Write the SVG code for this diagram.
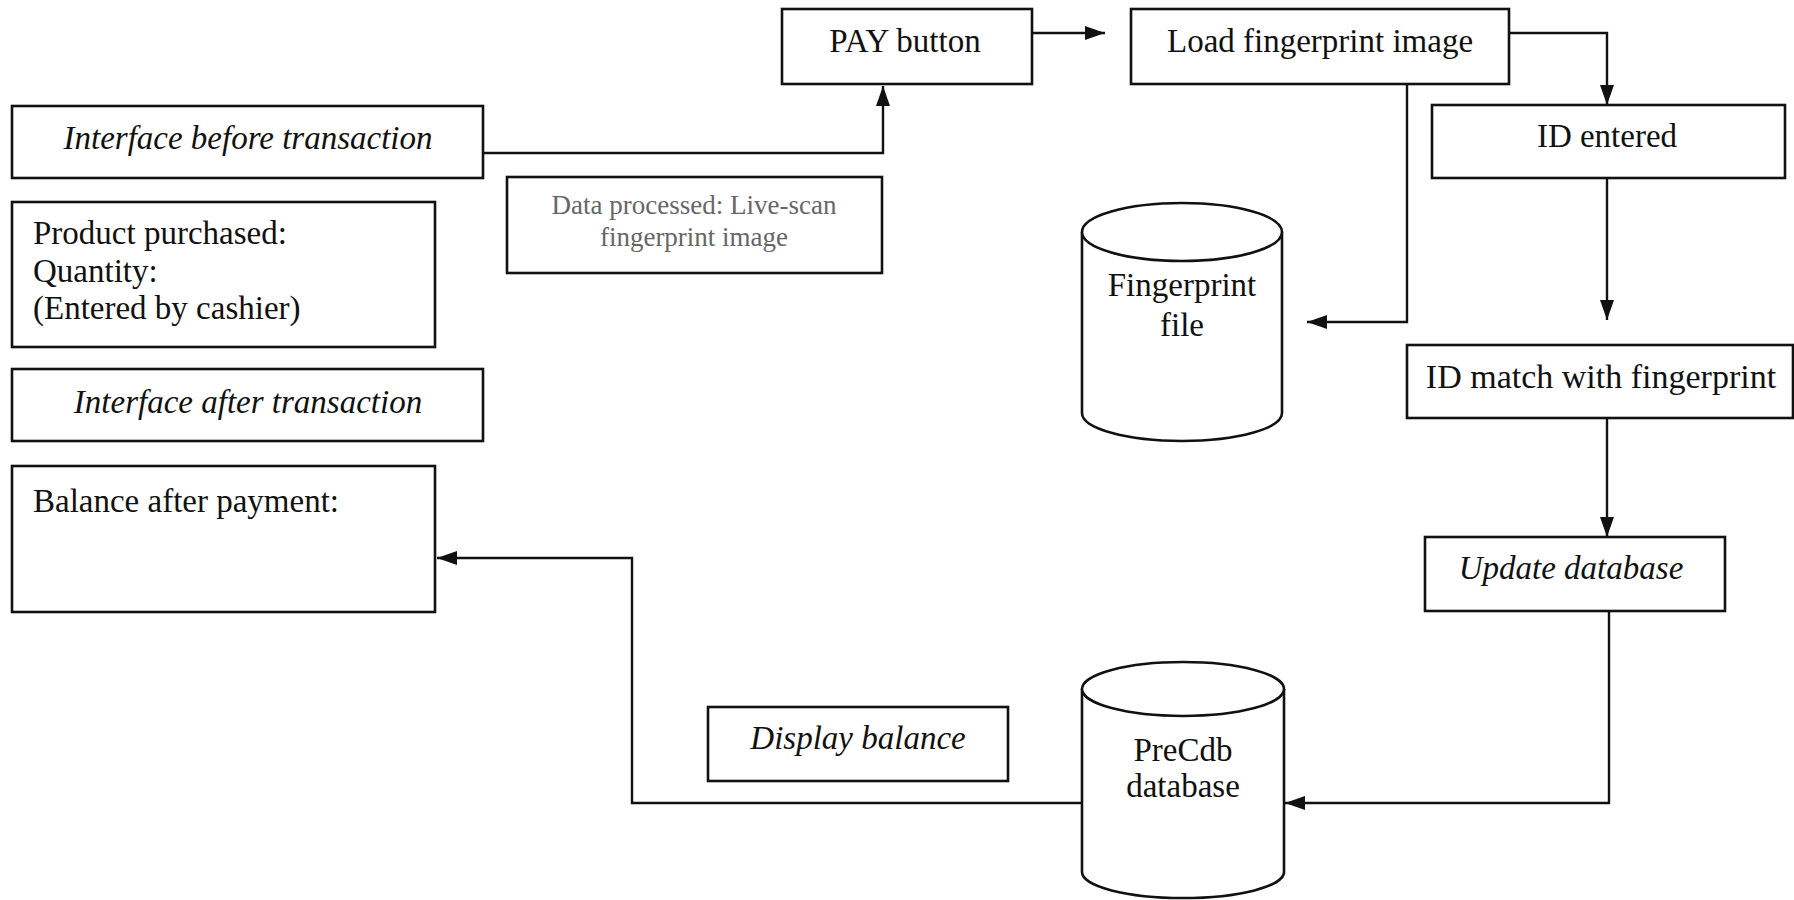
<svg xmlns="http://www.w3.org/2000/svg" width="1794" height="900" viewBox="0 0 1794 900">
<style>
.box{fill:#fff;stroke:#111;stroke-width:2.6}
.cyl{fill:#fff;stroke:#111;stroke-width:2.6}
.t{font-family:"Liberation Serif","Times New Roman",serif;font-size:33px;fill:#111}
.c{text-anchor:middle}
.i{font-style:italic}
.g{font-size:27px;fill:#666}
.con{fill:none;stroke:#111;stroke-width:2.4}
</style>
<defs>
<marker id="ah" viewBox="0 0 20 14" refX="20" refY="7" markerWidth="20" markerHeight="14" markerUnits="userSpaceOnUse" orient="auto">
<path d="M0,0 L20,7 L0,14 z" fill="#111"/>
</marker>
</defs>
<rect width="1794" height="900" fill="#fff"/>

<g id="connectors">
<path class="con" d="M483,153 H883 V86" marker-end="url(#ah)"/>
<path class="con" d="M1032,33 H1105" marker-end="url(#ah)"/>
<path class="con" d="M1509,33 H1607 V105" marker-end="url(#ah)"/>
<path class="con" d="M1407,84 V322 H1307" marker-end="url(#ah)"/>
<path class="con" d="M1607,178 V320" marker-end="url(#ah)"/>
<path class="con" d="M1607,418 V537" marker-end="url(#ah)"/>
<path class="con" d="M1609,611 V803 H1285" marker-end="url(#ah)"/>
<path class="con" d="M1082,803 H632 V558 H437" marker-end="url(#ah)"/>
</g>

<g id="interface-before">
<rect class="box" x="12" y="106" width="471" height="72"/>
<text class="t c i" x="248" y="149">Interface before transaction</text>
</g>
<g id="product-purchased">
<rect class="box" x="12" y="202" width="423" height="145"/>
<text class="t" x="33" y="244">Product purchased:</text>
<text class="t" x="33" y="282">Quantity:</text>
<text class="t" x="33" y="319">(Entered by cashier)</text>
</g>
<g id="interface-after">
<rect class="box" x="12" y="369" width="471" height="72"/>
<text class="t c i" x="248" y="413">Interface after transaction</text>
</g>
<g id="balance-after-payment">
<rect class="box" x="12" y="466" width="423" height="146"/>
<text class="t" x="33" y="512">Balance after payment:</text>
</g>
<g id="data-processed">
<rect class="box" x="507" y="177" width="375" height="96"/>
<text class="t c g" x="694" y="214">Data processed: Live-scan</text>
<text class="t c g" x="694" y="246">fingerprint image</text>
</g>
<g id="pay-button">
<rect class="box" x="782" y="9" width="250" height="75"/>
<text class="t c" x="905" y="52">PAY button</text>
</g>
<g id="load-fingerprint">
<rect class="box" x="1131" y="9" width="378" height="75"/>
<text class="t c" x="1320" y="52">Load fingerprint image</text>
</g>
<g id="id-entered">
<rect class="box" x="1432" y="105" width="353" height="73"/>
<text class="t c" x="1607" y="147">ID entered</text>
</g>
<g id="id-match">
<rect class="box" x="1407" y="345" width="386" height="73"/>
<text class="t c" x="1601" y="388" style="font-size:34px">ID match with fingerprint</text>
</g>
<g id="update-database">
<rect class="box" x="1425" y="537" width="300" height="74"/>
<text class="t c i" x="1571" y="579">Update database</text>
</g>
<g id="display-balance">
<rect class="box" x="708" y="707" width="300" height="74"/>
<text class="t c i" x="858" y="749">Display balance</text>
</g>
<g id="fingerprint-file">
<path class="cyl" d="M1082,232 V413 A100,28 0 0 0 1282,413 V232"/>
<ellipse class="cyl" cx="1182" cy="232" rx="100" ry="29"/>
<text class="t c" x="1182" y="296">Fingerprint</text>
<text class="t c" x="1182" y="336">file</text>
</g>
<g id="precdb-database">
<path class="cyl" d="M1082,689 V872 A101,26 0 0 0 1284,872 V689"/>
<ellipse class="cyl" cx="1183" cy="689" rx="101" ry="27"/>
<text class="t c" x="1183" y="761">PreCdb</text>
<text class="t c" x="1183" y="797">database</text>
</g>
</svg>
